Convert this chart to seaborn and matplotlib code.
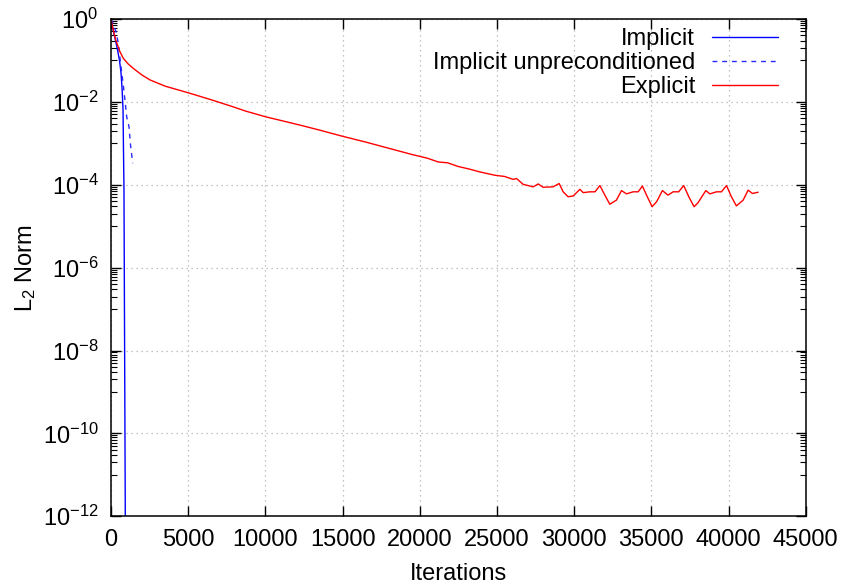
import numpy as np
import pandas as pd
import matplotlib
matplotlib.use("Agg")
import matplotlib.pyplot as plt
import seaborn as sns
from matplotlib.ticker import FixedLocator, NullFormatter

# ---------------- data (log10 of the L2 norm) ----------------
implicit_iter = [0, 100, 250, 400, 550, 650, 720, 780, 810, 840, 880, 926, 940]
implicit_log10 = [0, -0.2, -0.45, -0.7, -1.0, -1.3, -1.7, -2.2, -3.2, -4.1, -7.8, -12.0, -13.3]

unprec_iter = [0, 100, 200, 324, 475, 648, 780, 906, 1016, 1165, 1275, 1405]
unprec_log10 = [0, -0.08, -0.18, -0.31, -0.59, -1.15, -1.55, -1.96, -2.36, -2.6, -3.08, -3.48]

explicit_iter = [0, 60, 150, 300, 580, 800, 1100, 1440, 2000, 2525, 3500, 5000, 6500,
                 7920, 8700, 10020, 12240, 13500, 15000, 16500, 18000, 19500, 20500,
                 21200, 21800, 22500, 23200, 23890, 24860, 25500, 26050, 26270, 26700,
                 27350, 27670, 27990, 28640, 29030, 29290, 29610, 29940, 30370, 30590,
                 31020, 31350, 31670, 31990, 32310, 32740, 33070, 33390, 33820, 34150,
                 34420, 34690, 35050, 35340, 35720, 36080, 36410, 36770, 37100, 37430,
                 37770, 38030, 38530, 38790, 39220, 39540, 39870, 40190, 40510, 40950,
                 41270, 41550, 41920]
explicit_log10 = [0, -0.12, -0.27, -0.5, -0.79, -0.95, -1.08, -1.19, -1.35, -1.47, -1.62,
                  -1.78, -1.95, -2.12, -2.22, -2.36, -2.56, -2.68, -2.83, -2.97, -3.12,
                  -3.27, -3.36, -3.45, -3.47, -3.56, -3.62, -3.69, -3.77, -3.8, -3.87,
                  -3.85, -3.99, -4.05, -3.98, -4.06, -4.05, -3.97, -4.17, -4.29, -4.27,
                  -4.11, -4.19, -4.17, -4.17, -4.02, -4.25, -4.47, -4.37, -4.14, -4.22,
                  -4.17, -4.17, -4.03, -4.25, -4.53, -4.41, -4.14, -4.25, -4.17, -4.17,
                  -4.02, -4.29, -4.53, -4.43, -4.14, -4.22, -4.17, -4.17, -4.02, -4.29,
                  -4.51, -4.37, -4.13, -4.21, -4.18]

series_labels = ["Implicit", "Implicit unpreconditioned", "Explicit"]
x_ticks = [0, 5000, 10000, 15000, 20000, 25000, 30000, 35000, 40000, 45000]
y_exponents = [0, -2, -4, -6, -8, -10, -12]

# ---------------- style ----------------
sns.set_theme(style="ticks")
plt.rcParams["font.family"] = ["Liberation Sans", "DejaVu Sans"]
plt.rcParams["mathtext.fontset"] = "custom"
plt.rcParams["mathtext.rm"] = "Liberation Sans"
plt.rcParams["mathtext.it"] = "Liberation Sans"
plt.rcParams["mathtext.default"] = "regular"
for k in ["text.color", "axes.labelcolor", "xtick.color", "ytick.color",
          "xtick.labelcolor", "ytick.labelcolor"]:
    plt.rcParams[k] = "black"
FS = 17

fig = plt.figure(figsize=(8.45, 5.88), dpi=100)
ax = fig.add_axes([111 / 845, 1 - 516.3 / 588, (805.7 - 111) / 845, (516.3 - 19) / 588])

frames = [
    pd.DataFrame({"it": implicit_iter, "norm": 10.0 ** np.array(implicit_log10)}),
    pd.DataFrame({"it": unprec_iter, "norm": 10.0 ** np.array(unprec_log10)}),
    pd.DataFrame({"it": explicit_iter, "norm": 10.0 ** np.array(explicit_log10)}),
]
colors = ["#0000ff", "#2a2aff", "#ff0000"]
styles = ["-", (0, (3.5, 3.5)), "-"]

for df, lab, col, ls in zip(frames, series_labels, colors, styles):
    sns.lineplot(data=df, x="it", y="norm", ax=ax, color=col, linewidth=1.0,
                 linestyle=ls, label=lab, sort=False, estimator=None)

ax.set_yscale("log")
ax.set_xlim(0, 45000)
ax.set_ylim(1e-12, 1)
ax.set_xticks(x_ticks)
ax.set_xticklabels([str(v) for v in x_ticks], fontsize=FS)
ax.set_yticks([10.0 ** e for e in y_exponents])
ax.set_yticklabels([r"$10^{%d}$" % e for e in y_exponents], fontsize=FS)
minor = [i * 10.0 ** (e - 1) for e in y_exponents for i in range(1, 10)]
ax.yaxis.set_minor_locator(FixedLocator([m for m in minor if 1e-12 <= m <= 1]))
ax.yaxis.set_minor_formatter(NullFormatter())

ax.tick_params(axis="both", which="major", direction="in", length=7, width=1.0,
               top=True, right=True, colors="black", pad=9, labelcolor="black")
ax.tick_params(axis="y", which="minor", direction="in", length=4, width=0.8,
               left=True, right=True, color="black")
ax.tick_params(axis="x", which="minor", bottom=False, top=False)

ax.grid(True, which="major", color="#b0b0b0", linestyle=(0, (1, 3)), linewidth=0.9)
for s in ax.spines.values():
    s.set_color("black")
    s.set_linewidth(1.1)
ax.set_facecolor("white")

ax.set_xlabel("Iterations", fontsize=FS, labelpad=9, color="black")
ax.set_ylabel(r"L$_2$ Norm", fontsize=FS, labelpad=3, color="black")

leg = ax.legend(loc="upper right", frameon=False, fontsize=FS, markerfirst=False,
                handlelength=2.8, handletextpad=0.7, labelspacing=0.09,
                borderaxespad=0.2, bbox_to_anchor=(0.98, 1.01))
for t in leg.get_texts():
    t.set_color("black")
try:
    leg._legend_box._children[-1]._children[0].align = "right"
except Exception:
    pass

fig.savefig("out.png", dpi=100, facecolor="white")
